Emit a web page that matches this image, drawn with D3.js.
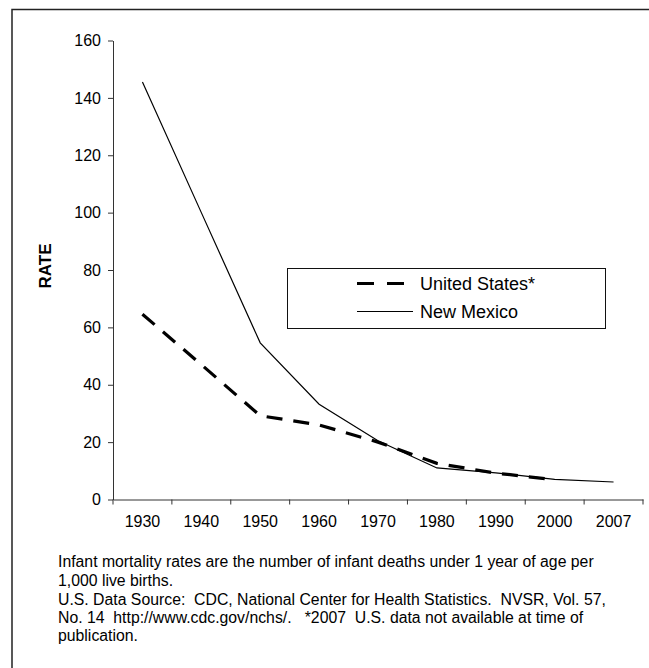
<!DOCTYPE html>
<html><head><meta charset="utf-8">
<script src="https://cdn.jsdelivr.net/npm/d3@7"></script>
<style>
body{margin:0;background:#fff}
svg{display:block}
text{font-family:"Liberation Sans",Arial,sans-serif;fill:#000}
</style>
</head><body>
<svg id="c" width="649" height="668"></svg>
<script>
const years = ["1930","1940","1950","1960","1970","1980","1990","2000","2007"];
const usRates = [64.6, 47.0, 29.2, 26.0, 20.0, 12.6, 9.2, 6.9, null];
const nmRates = [145.5, 100.0, 54.6, 33.2, 20.5, 11.0, 9.3, 7.0, 6.1];
const yTicks = [0, 20, 40, 60, 80, 100, 120, 140, 160];
const seriesNames = ["United States*", "New Mexico"];
const yTitle = "RATE";
const notes = [
  "Infant mortality rates are the number of infant deaths under 1 year of age per",
  "1,000 live births.",
  "U.S. Data Source:  CDC, National Center for Health Statistics.  NVSR, Vol. 57,",
  "No. 14  http://www.cdc.gov/nchs/.   *2007  U.S. data not available at time of",
  "publication."
];

const svg = d3.select("#c");
const pL = 113, pR = 643, pT = 40.5, pB = 499.5;

// outer frame
svg.append("path").attr("d", "M12,668V9.5H649").attr("fill", "none")
  .attr("stroke", "#222").attr("stroke-width", 1.5);

const x = d3.scaleBand().domain(years).range([pL, pR]).paddingInner(0).paddingOuter(0);
const y = d3.scaleLinear().domain([0, 160]).range([pB, pT]);
const cx = d => x(d) + x.bandwidth() / 2;

// y axis
const yAxis = svg.append("g").attr("transform", `translate(${pL},0)`)
  .call(d3.axisLeft(y).tickValues(yTicks).tickSize(5).tickSizeOuter(0).tickPadding(7));
yAxis.select(".domain").attr("stroke", "#333");
yAxis.selectAll(".tick line").attr("stroke", "#333");
yAxis.selectAll("text").attr("font-size", 16).attr("font-family", "Liberation Sans, Arial, sans-serif").attr("fill", "#000");

// x axis
const xAxis = svg.append("g").attr("transform", `translate(0,${pB})`)
  .call(d3.axisBottom(x).tickSize(0).tickPadding(16).tickSizeOuter(0));
xAxis.select(".domain").attr("stroke", "#333");
xAxis.selectAll("text").attr("font-size", 16).attr("font-family", "Liberation Sans, Arial, sans-serif").attr("fill", "#000");
const bounds = years.map(d => x(d)).concat([x(years[years.length - 1]) + x.bandwidth()]);
xAxis.selectAll("line.bound").data(bounds).enter().append("line").attr("class", "bound")
  .attr("x1", d => d).attr("x2", d => d).attr("y1", 0).attr("y2", 5).attr("stroke", "#333");

// y title
svg.append("text").attr("transform", "translate(51,266) rotate(-90)")
  .attr("text-anchor", "middle").attr("font-size", 17).attr("font-weight", "bold").text(yTitle);

// lines
const line = d3.line().defined(d => d[1] != null).x(d => cx(d[0])).y(d => y(d[1]));
svg.append("path").datum(years.map((yr, i) => [yr, nmRates[i]]))
  .attr("d", line).attr("fill", "none").attr("stroke", "#000").attr("stroke-width", 1.2);
svg.append("path").datum(years.map((yr, i) => [yr, usRates[i]]))
  .attr("d", line).attr("fill", "none").attr("stroke", "#000").attr("stroke-width", 3.2)
  .attr("stroke-dasharray", "16,11");

// legend
const lg = svg.append("g");
lg.append("rect").attr("x", 287.5).attr("y", 268.5).attr("width", 318).attr("height", 60)
  .attr("fill", "#fff").attr("stroke", "#111").attr("stroke-width", 1);
lg.append("line").attr("x1", 357).attr("x2", 405).attr("y1", 283.5).attr("y2", 283.5)
  .attr("stroke", "#000").attr("stroke-width", 3.2).attr("stroke-dasharray", "17,13");
lg.append("line").attr("x1", 357).attr("x2", 413).attr("y1", 311.5).attr("y2", 311.5)
  .attr("stroke", "#000").attr("stroke-width", 1.2);
lg.selectAll("text").data(seriesNames).enter().append("text")
  .attr("x", 420).attr("y", (d, i) => 290 + i * 28).attr("font-size", 18).text(d => d);

// notes
svg.append("g").selectAll("text").data(notes).enter().append("text")
  .attr("x", 58).attr("y", (d, i) => [567, 586, 604.5, 622.5, 641][i])
  .attr("font-size", 15.8).style("white-space", "pre").text(d => d);
</script>
</body></html>
